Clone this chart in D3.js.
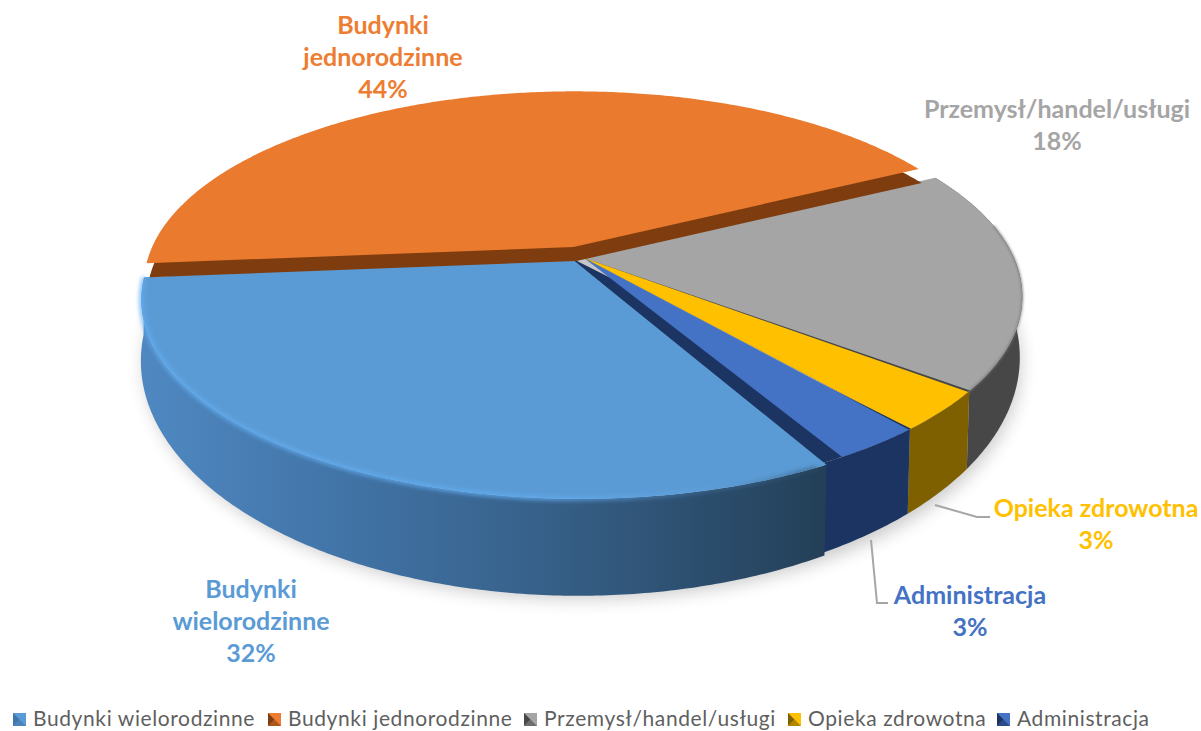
<!DOCTYPE html>
<html>
<head>
<meta charset="utf-8">
<script src="https://cdn.jsdelivr.net/npm/d3@7"></script>
<style>
body { margin: 0; background: #fff; overflow: hidden; }
svg { display: block; }
</style>
</head>
<body>
<script>
// values
var categories = ["Budynki wielorodzinne", "Budynki jednorodzinne", "Przemysł/handel/usługi", "Opieka zdrowotna", "Administracja"];
var shares = [31.6, 43.8, 18.1, 3.3, 3.2];
var colors = ["#5b9bd5", "#ed7d31", "#a5a5a5", "#ffc000", "#4472c4"];
var wallColors = ["#3f75a8", "#7f3d0f", "#474747", "#7f6000", "#1c3461"];
var labelLines = [["Budynki", "wielorodzinne"], ["Budynki", "jednorodzinne"], ["Przemysł/handel/usługi"], ["Opieka zdrowotna"], ["Administracja"]];
var labelPos = [[251, 598], [383, 34], [1057, 118], [1096, 517], [970, 604]];
var legendX = [13, 268, 524, 788, 997];
var explode = [0.015, 0.055, 0, 0, 0];
var apexNudge = [[-11, -3], [0, 0], [0, 0], [0, 0], [0, 0]];

var width = 1201;
var height = 731;

var svg = d3.select("body").append("svg")
    .attr("width", width)
    .attr("height", height);

var defs = svg.append("defs");

defs.append("filter").attr("id", "shadow")
    .attr("x", "-10%").attr("y", "-10%").attr("width", "120%").attr("height", "120%")
    .append("feGaussianBlur").attr("stdDeviation", 9);
defs.append("filter").attr("id", "soft")
    .attr("filterUnits", "userSpaceOnUse")
    .attr("x", 0).attr("y", 0).attr("width", width).attr("height", height)
    .append("feGaussianBlur").attr("stdDeviation", 2);
defs.append("filter").attr("id", "edge")
    .attr("filterUnits", "userSpaceOnUse")
    .attr("x", 0).attr("y", 0).attr("width", width).attr("height", height)
    .append("feGaussianBlur").attr("stdDeviation", 0.8);

function addGradient(id, x1, x2, stops) {
    var g = defs.append("linearGradient").attr("id", id)
        .attr("gradientUnits", "userSpaceOnUse")
        .attr("x1", x1).attr("x2", x2).attr("y1", 0).attr("y2", 0);
    stops.forEach(function(s) {
        g.append("stop").attr("offset", s[0]).attr("stop-color", s[1]).attr("stop-opacity", s[2] === undefined ? 1 : s[2]);
    });
}

addGradient("blueWall", 145, 830, [[0, "#4f88c1"], [0.3, "#4173a6"], [0.6, "#365f87"], [1, "#233f57"]]);
addGradient("blueBevel", 140, 800, [[0, "#62adf2"], [0.6, "#62adf2"], [0.85, "#62adf2", 0.25], [1, "#2c4f70", 0.6]]);

// the disk is drawn in perspective, so both rims go through the same kind of map
var topMap = {cx: 584, cy: 258, a: 430, b: 191, k: 0.194};
var bottomMap = {cx: 582.5, cy: 312, a: 429, b: 225, k: 0.194};

function project(map, angle, r, e, mid) {
    var u = r * Math.sin(angle) + e * Math.sin(mid);
    var v = -r * Math.cos(angle) - e * Math.cos(mid);
    var w = 1 - map.k * v;
    return [map.cx + map.a * u / w, map.cy + map.b * v / w];
}

function rim(map, a0, a1, r, e, mid) {
    var n = Math.max(2, Math.ceil(Math.abs(a1 - a0) / 0.01));
    return d3.range(n + 1).map(function(i) {
        return project(map, a0 + (a1 - a0) * i / n, r, e, mid);
    });
}

var line = d3.line();

var startAngle = 151.3 * Math.PI / 180;
var slices = d3.pie().sort(null).startAngle(startAngle).endAngle(startAngle + 2 * Math.PI)(shares);

function midOf(d) {
    return (d.startAngle + d.endAngle) / 2;
}

function apexOf(d) {
    var apex = project(topMap, midOf(d), 0, explode[d.index], midOf(d));
    return [apex[0] + apexNudge[d.index][0], apex[1] + apexNudge[d.index][1]];
}

function wallPath(d, from, to) {
    var e = explode[d.index];
    var m = midOf(d);
    var top = rim(topMap, from, to, 1, e, m);
    var bottom = rim(bottomMap, to, from, 1, e, m);
    return line(top.concat(bottom)) + "Z";
}

function topPath(d, from, to, r, apex) {
    var e = explode[d.index];
    return line([apex || apexOf(d)].concat(rim(topMap, from, to, r || 1, e, midOf(d)))) + "Z";
}

var blue = slices[0];
var orange = slices[1];
var grey = slices[2];
var yellow = slices[3];
var admin = slices[4];

// soft shadow under the pie
svg.append("path")
    .attr("d", line(rim(bottomMap, 0, 2 * Math.PI, 1, 0, 0)) + "Z")
    .attr("transform", "translate(0,7)")
    .attr("fill", "#000")
    .attr("opacity", 0.22)
    .attr("filter", "url(#shadow)");

// side walls, the orange one stays hidden behind the tops
var walls = svg.append("g");
walls.append("path").attr("d", wallPath(grey, grey.startAngle, grey.endAngle)).attr("fill", wallColors[2]);
walls.append("path").attr("d", wallPath(yellow, yellow.startAngle, yellow.endAngle)).attr("fill", wallColors[3]);
walls.append("path").attr("d", wallPath(admin, admin.startAngle, admin.endAngle + 0.02)).attr("fill", wallColors[4]);
walls.append("path").attr("d", wallPath(blue, blue.startAngle + 0.008, blue.endAngle)).attr("fill", "url(#blueWall)");

// tops, each with its darker cut face left as a thin stripe
var tops = svg.append("g");

tops.append("path").attr("d", topPath(grey, grey.startAngle, grey.endAngle)).attr("fill", colors[2]);
tops.append("path").attr("d", topPath(yellow, yellow.startAngle - 0.004, yellow.endAngle)).attr("fill", wallColors[2]);
tops.append("path").attr("d", topPath(yellow, yellow.startAngle + 0.004, yellow.endAngle)).attr("fill", colors[3]);
tops.append("path").attr("d", topPath(admin, admin.startAngle - 0.003, admin.endAngle + 0.03, 1, apexOf(blue))).attr("fill", wallColors[4]);
tops.append("path").attr("d", topPath(admin, admin.startAngle + 0.003, admin.endAngle - 0.022)).attr("fill", colors[4]);
tops.append("path").attr("d", topPath(blue, blue.startAngle + 0.008, blue.endAngle)).attr("fill", colors[0]);

// orange slice sits higher, its cut face shows below it
var orangeRadius = 0.99;
tops.append("path")
    .attr("d", topPath(orange, orange.startAngle, orange.endAngle, orangeRadius))
    .attr("transform", "translate(-1,13)")
    .attr("fill", wallColors[1]);
tops.append("path")
    .attr("d", topPath(orange, orange.startAngle, orange.endAngle, orangeRadius))
    .attr("transform", "translate(-4,-1)")
    .attr("fill", "#ea7a2d");

// bevel along the blue rim
svg.append("path")
    .attr("d", line(rim(topMap, blue.startAngle + 0.03, blue.endAngle, 1, explode[0], midOf(blue))))
    .attr("fill", "none")
    .attr("stroke", "url(#blueBevel)")
    .attr("stroke-width", 3.5)
    .attr("filter", "url(#soft)");

// darker edge on the grey slice
svg.append("path")
    .attr("d", line(rim(topMap, grey.startAngle + 0.3, grey.endAngle, 1, 0, midOf(grey))))
    .attr("fill", "none")
    .attr("stroke", "#777")
    .attr("stroke-width", 2)
    .attr("opacity", 0.7)
    .attr("filter", "url(#edge)");

// leader lines
var leaders = [[[935, 505], [977, 517], [990, 517]], [[871, 540], [877, 603], [888, 603]]];
svg.append("g").selectAll("path")
    .data(leaders)
    .enter().append("path")
    .attr("d", function(d) { return line(d); })
    .attr("fill", "none")
    .attr("stroke", "#a6a6a6")
    .attr("stroke-width", 2);

// data labels
var labels = svg.append("g")
    .attr("font-family", "Lato, sans-serif")
    .attr("font-weight", 700)
    .attr("font-size", 25)
    .attr("text-anchor", "middle");

categories.forEach(function(c, i) {
    var rows = labelLines[i].concat([Math.round(shares[i]) + "%"]);
    rows.forEach(function(row, j) {
        labels.append("text")
            .attr("x", labelPos[i][0])
            .attr("y", labelPos[i][1] + j * 32)
            .attr("fill", colors[i])
            .text(row);
    });
});

// legend
var legend = svg.append("g").attr("font-family", "Lato, sans-serif");
var keySize = 13;
var keyY = 713;

categories.forEach(function(c, i) {
    var g = legend.append("g").attr("transform", "translate(" + legendX[i] + "," + keyY + ")");
    g.append("rect")
        .attr("width", keySize).attr("height", keySize)
        .attr("fill", colors[i]);
    g.append("path")
        .attr("d", line([[0, 0], [keySize / 2, keySize / 2], [0, keySize]]) + "Z")
        .attr("fill", wallColors[i]);
    g.append("path")
        .attr("d", line([[0, keySize], [keySize / 2, keySize / 2], [keySize, keySize]]) + "Z")
        .attr("fill", wallColors[i])
        .attr("opacity", 0.6);
    legend.append("text")
        .attr("x", legendX[i] + 20)
        .attr("y", 726)
        .attr("font-size", 21)
        .attr("letter-spacing", 0.6)
        .attr("fill", "#5f5f5f")
        .text(c);
});
</script>
</body>
</html>
